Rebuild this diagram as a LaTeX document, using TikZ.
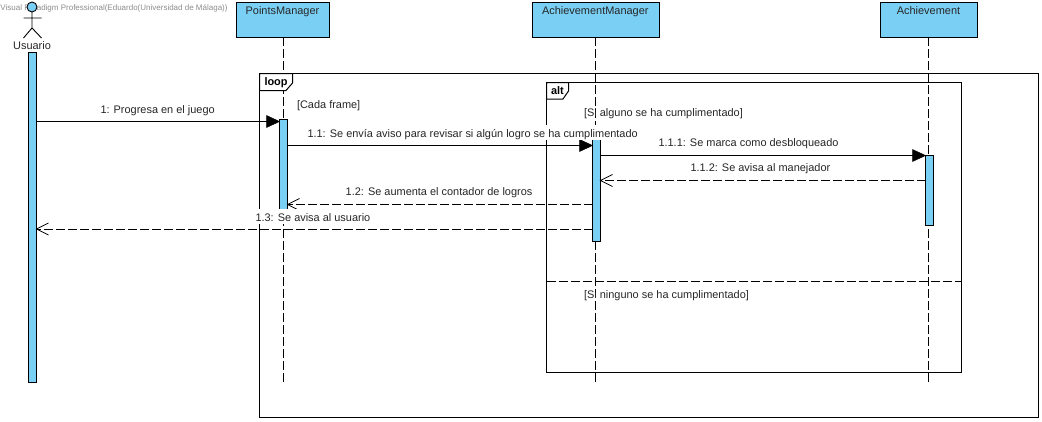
\documentclass[tikz,border=0pt]{standalone}
\usepackage{fontspec}
\setmainfont{Liberation Sans}
\definecolor{vpblue}{HTML}{7ACFF5}
\definecolor{vpgrey}{HTML}{8C8C8C}
\tikzset{
  x=1pt,y=-1pt,
  every node/.style={inner sep=0pt,outer sep=0pt},
  headbox/.style={draw=black,fill=vpblue,line width=1pt,minimum width=#1,minimum height=34.5pt,anchor=north west},
  actbox/.style={draw=black,fill=vpblue,line width=1pt,minimum width=8pt,minimum height=#1,anchor=north west},
  lifeline/.style={line width=1pt,dash pattern=on 9pt off 3pt,xshift=-0.5pt},
  framebox/.style={draw=black,line width=1pt},
  tagshape/.style={line width=1pt,fill=white},
  lbl/.style={anchor=base west,font=\fontsize{10.95}{12}\selectfont,text=black!85},
  headlbl/.style={anchor=base,font=\fontsize{10.95}{12}\selectfont,text=black!85},
  msglbl/.style={lbl,fill=white,text height=12pt,text depth=3pt},
  taglbl/.style={anchor=base west,font=\fontsize{10.95}{12}\selectfont\bfseries},
  syncmsg/.style={line width=1pt},
  retmsg/.style={line width=1pt,dash pattern=on 9pt off 3pt},
  filledtip/.style={fill=black,draw=black,line width=0.5pt},
  opentip/.style={line width=0.8pt,solid}
}
\begin{document}
\begin{tikzpicture}
\useasboundingbox (0,0) rectangle (1042,421);
% frames
\node[framebox,minimum width=779pt,minimum height=343.5pt,anchor=north west] (loopf) at (259.5,73.5) {};
\node[framebox,minimum width=415pt,minimum height=289.5pt,anchor=north west] (altf) at (546.5,82.5) {};
\coordinate (ydiv) at (0,281);
\draw[retmsg] (altf.west |- ydiv) -- (altf.east |- ydiv);
% heads
\node[headbox=93pt] (pm) at (236.5,2.5) {};
\node[headbox=126.8pt] (am) at (532.5,2.5) {};
\node[headbox=97pt] (ach) at (880.3,2.5) {};
\node[headlbl] (pmt) at (282.5,14.2) {PointsManager};
\node[headlbl] (amt) at (595.3,14.2) {AchievementManager};
\node[headlbl] (acht) at (928.5,14.2) {Achievement};
% lifelines
\coordinate (yend) at (0,384);
\draw[lifeline] (pm.south) -- (pm.south |- yend) coordinate (pmend);
\draw[lifeline] (am.south) -- (am.south |- yend) coordinate (amend);
\draw[lifeline] (ach.south) -- (ach.south |- yend) coordinate (achend);
% frame tags
\draw[tagshape] (259.5,73.5) -- (292.5,73.5) -- (292.5,83) -- (286,90.5) -- (259.5,90.5) -- cycle;
\draw[tagshape] (546.5,82.5) -- (568.5,82.5) -- (568.5,91) -- (563,99) -- (546.5,99) -- cycle;
\node[taglbl] (looplbl) at (264.5,85) {loop};
\node[taglbl] (altlbl) at (551,94) {alt};
% watermark
\node[anchor=base west,font=\fontsize{8}{9}\selectfont,text=vpgrey] (wm) at (0.5,10) {Visual Paradigm Professional(Eduardo(Universidad de Málaga))};
% actor
\draw[line width=0.9pt,fill=vpblue] (32,7) circle (5);
\draw[line width=0.9pt] (32,12) -- (32,28) (23.5,18) -- (41.5,18) (23.5,38) -- (32,28) -- (41.5,38);
\node[headlbl] (usr) at (32,49) {Usuario};
% activations
\node[actbox=330pt] (ua) at (28.5,52.5) {};
\node[actbox=92.5pt] (pa) at (279.5,119.5) {};
\node[actbox=105.5pt] (ama) at (592.5,136) {};
\node[actbox=70pt] (aa) at (925.5,155.5) {};
% messages
\coordinate (y1) at (0,121.5);
\coordinate (y2) at (0,145.5);
\coordinate (y3) at (0,155.5);
\coordinate (y4) at (0,180.5);
\coordinate (y5) at (0,204.5);
\coordinate (y6) at (0,229);
\draw[syncmsg] (ua.east |- y1) -- (pa.west |- y1);
\filldraw[filledtip] (pa.west |- y1) -- ++(-13,-6) -- ++(0,12) -- cycle;
\draw[syncmsg] (pa.east |- y2) -- (ama.west |- y2);
\filldraw[filledtip] (ama.west |- y2) -- ++(-13,-6) -- ++(0,12) -- cycle;
\draw[syncmsg] (ama.east |- y3) -- (aa.west |- y3);
\filldraw[filledtip] (aa.west |- y3) -- ++(-13,-6) -- ++(0,12) -- cycle;
\draw[retmsg] (aa.west |- y4) -- (ama.east |- y4);
\draw[opentip] (ama.east |- y4) ++(12,-6) -- (ama.east |- y4) -- ++(12,6);
\draw[retmsg] (ama.west |- y5) -- (pa.east |- y5);
\draw[opentip] (pa.east |- y5) ++(12,-6) -- (pa.east |- y5) -- ++(12,6);
\draw[retmsg] (ama.west |- y6) -- (ua.east |- y6);
\draw[opentip] (ua.east |- y6) ++(12,-6) -- (ua.east |- y6) -- ++(12,6);
% guards
\node[lbl] (g1) at (297,108.3) {[Cada frame]};
\node[lbl] (g2) at (584,116.7) {[Si alguno se ha cumplimentado]};
\node[lbl] (g3) at (584,298.5) {[Si ninguno se ha cumplimentado]};
% message labels
\node[msglbl] (l1) at (100.5,113) {1: Progresa en el juego};
\node[msglbl] (l2) at (307.5,137) {1.1: Se envía aviso para revisar si algún logro se ha cumplimentado};
\node[msglbl] (l3) at (658.5,146) {1.1.1: Se marca como desbloqueado};
\node[msglbl] (l4) at (690.5,171.7) {1.1.2: Se avisa al manejador};
\node[msglbl] (l5) at (345.7,195.7) {1.2: Se aumenta el contador de logros};
\node[msglbl] (l6) at (255.5,221) {1.3: Se avisa al usuario};
\end{tikzpicture}
\end{document}
